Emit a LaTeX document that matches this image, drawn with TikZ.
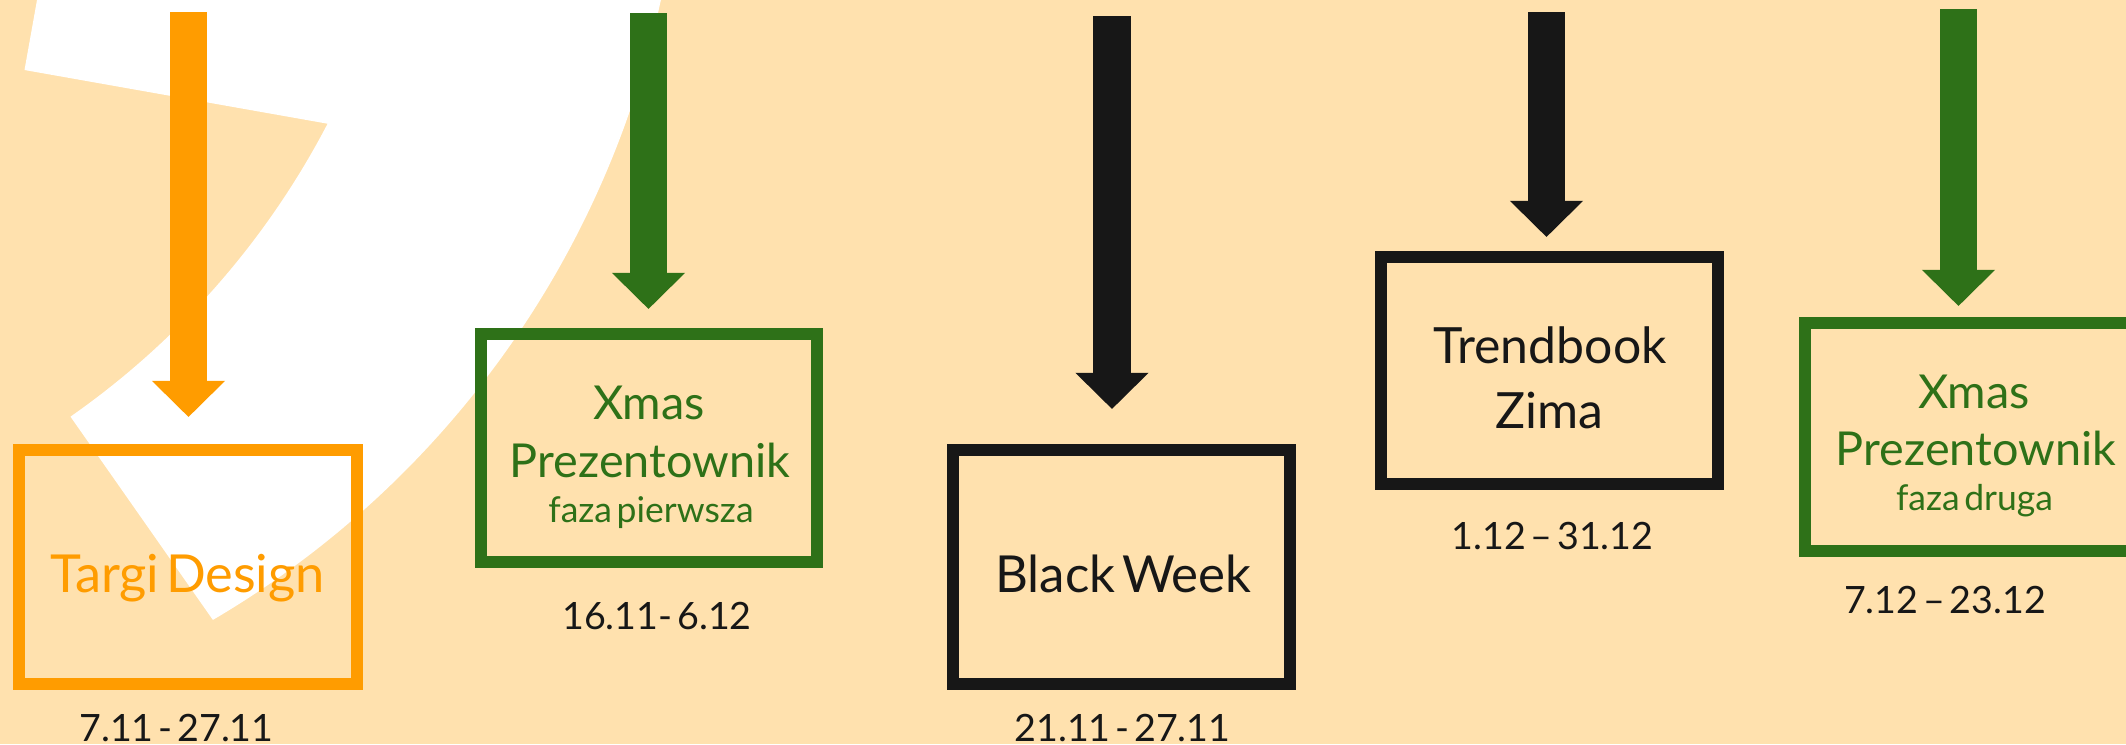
\documentclass[tikz,border=0pt]{standalone}
\usepackage{fontspec}
\setmainfont{Lato}[WordSpace=0.5]
\usetikzlibrary{arrows.meta}
\definecolor{bg}{HTML}{FFE1AE}
\definecolor{org}{HTML}{FF9C00}
\definecolor{grn}{HTML}{2E7118}
\definecolor{blk}{HTML}{171717}
\newcommand{\bigtxt}{\fontsize{14.9}{17}\selectfont}
\newcommand{\bwtxt}{\fontsize{14.5}{17}\selectfont}
\newcommand{\tbtxt}{\fontsize{14.2}{17}\selectfont}
\newcommand{\midtxt}{\fontsize{13.3}{15}\selectfont}
\newcommand{\smltxt}{\fontsize{10.1}{12}\selectfont}
\newcommand{\datetxt}{\fontsize{10.7}{13}\selectfont}
\tikzset{
  frame/.style={draw=#1, line width=0.12cm, inner sep=0pt, outer sep=0pt, rectangle},
  lbl/.style={anchor=base, inner sep=0pt, outer sep=0pt},
  bigarrow/.style={draw=#1, line width=0.37cm,
    -{Triangle[width=0.73cm, length=0.36cm, line width=0pt]}}
}
\begin{document}
\begin{tikzpicture}[x=0.01cm, y=-0.01cm]
\useasboundingbox (0,0) rectangle (2126,744);
\clip (0,0) rectangle (2126,744);
\fill[bg] (0,0) rectangle (2126,744);
% white background shape
\fill[white] (38.8,-10) -- (24.5,70) -- (327.6,123.7)
  arc[start angle=-27.5, end angle=-55.05, radius=8.18cm]
  -- (212.9,619.9)
  arc[start angle=-59.55, end angle=-12.11, radius=9.51cm]
  -- (663,-10) -- cycle;

% boxes
\node[frame=org, minimum width=3.38cm, minimum height=2.34cm] (b1) at (188,567) {};
\node[frame=grn, minimum width=3.36cm, minimum height=2.28cm] (b2) at (649,448) {};
\node[frame=blk, minimum width=3.37cm, minimum height=2.34cm] (b3) at (1121.5,567) {};
\node[frame=blk, minimum width=3.37cm, minimum height=2.27cm] (b4) at (1549.5,370.5) {};
\node[frame=grn, minimum width=3.40cm, minimum height=2.28cm] (b5) at (1975,437) {};

% arrow starts
\coordinate (a1) at (188.5,12);
\coordinate (a2) at (648.5,13);
\coordinate (a3) at (1112,16);
\coordinate (a4) at (1546.5,12);
\coordinate (a5) at (1958.5,9);

\draw[bigarrow=org, shorten >=0.33cm] (a1) -- (a1 |- b1.north);
\draw[bigarrow=grn, shorten >=0.25cm] (a2) -- (a2 |- b2.north);
\draw[bigarrow=blk, shorten >=0.41cm] (a3) -- (a3 |- b3.north);
\draw[bigarrow=blk, shorten >=0.20cm] (a4) -- (a4 |- b4.north);
\draw[bigarrow=grn, shorten >=0.17cm] (a5) -- (a5 |- b5.north);

% texts
\node[lbl, text=org, font=\bigtxt] (t1) at (187.5,592) {Targi Design};
\node[lbl, text=blk, font=\datetxt] (d1) at (176.5,741) {7.11 - 27.11};

\node[lbl, text=grn, font=\midtxt] (t2a) at (649,419) {Xmas};
\node[lbl, text=grn, font=\midtxt] (t2b) at (650,477) {Prezentownik};
\node[lbl, text=grn, font=\smltxt] (t2c) at (651,522) {faza pierwsza};
\node[lbl, text=blk, font=\datetxt] (d2) at (657,629) {16.11- 6.12};

\node[lbl, text=blk, font=\bwtxt] (t3) at (1123.5,592) {Black Week};
\node[lbl, text=blk, font=\datetxt] (d3) at (1122.5,741) {21.11 - 27.11};

\node[lbl, text=blk, font=\tbtxt] (t4a) at (1550,363) {Trendbook};
\node[lbl, text=blk, font=\tbtxt] (t4b) at (1549,428) {Zima};
\node[lbl, text=blk, font=\datetxt] (d4) at (1552.5,549) {1.12 – 31.12};

\node[lbl, text=grn, font=\midtxt] (t5a) at (1974,408) {Xmas};
\node[lbl, text=grn, font=\midtxt] (t5b) at (1976,465) {Prezentownik};
\node[lbl, text=grn, font=\smltxt] (t5c) at (1974.5,510) {faza druga};
\node[lbl, text=blk, font=\datetxt] (d5) at (1945,613) {7.12 – 23.12};
\end{tikzpicture}
\end{document}
